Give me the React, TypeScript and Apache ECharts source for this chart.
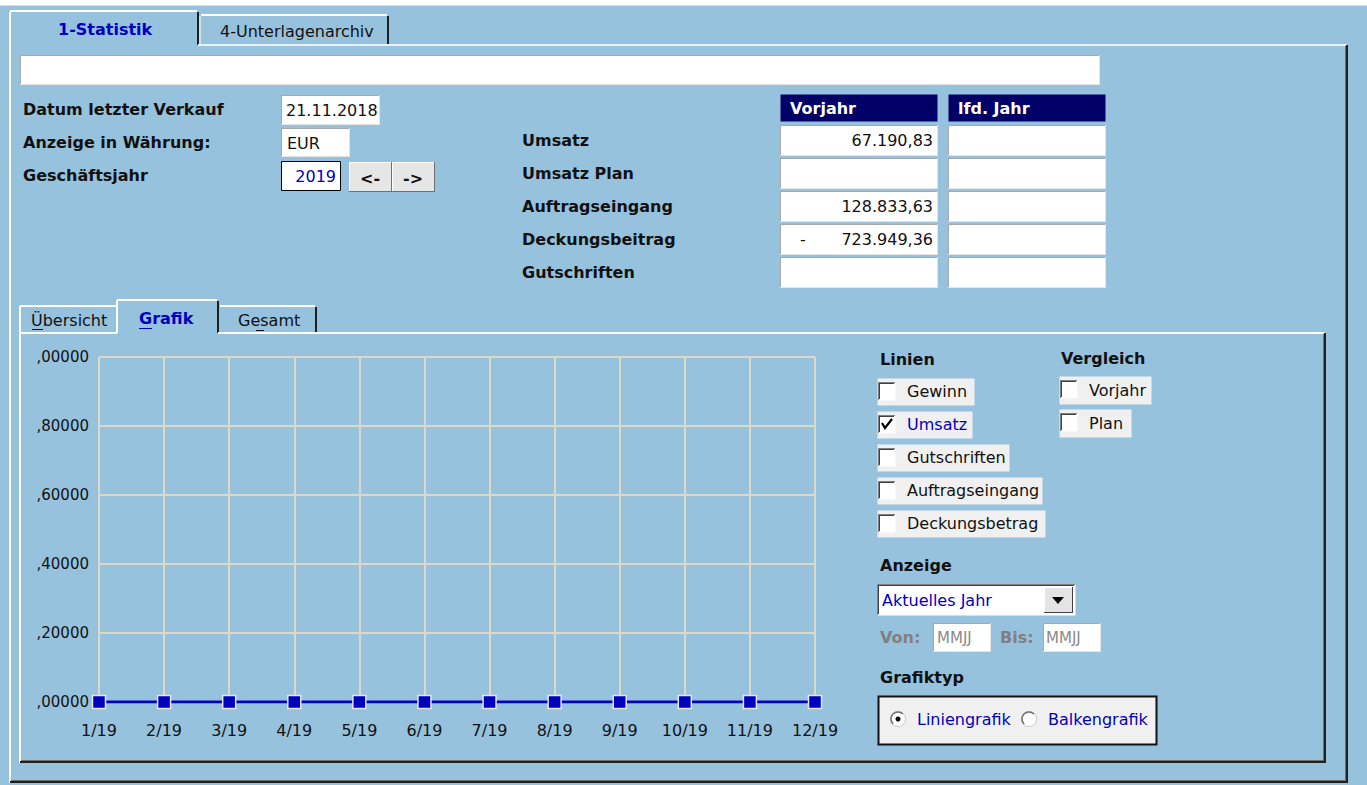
import React, { useEffect, useRef } from "react";
import * as echarts from "echarts";

// ---- data ----
const months = ["1/19", "2/19", "3/19", "4/19", "5/19", "6/19", "7/19", "8/19", "9/19", "10/19", "11/19", "12/19"];
const umsatzValues = [0, 0, 0, 0, 0, 0, 0, 0, 0, 0, 0, 0];
const yMin = 0;
const yMax = 1;
const yStep = 0.2;

const rowLabels = ["Umsatz", "Umsatz Plan", "Auftragseingang", "Deckungsbeitrag", "Gutschriften"];
const vorjahrValues = ["67.190,83", "", "128.833,63", "723.949,36", ""];
const vorjahrSigns = ["", "", "", "-", ""];
const lfdJahrValues = ["", "", "", "", ""];
const linienOptions = ["Gewinn", "Umsatz", "Gutschriften", "Auftragseingang", "Deckungsbetrag"];
const linienChecked = [false, true, false, false, false];
const vergleichOptions = ["Vorjahr", "Plan"];

const FONT = '"DejaVu Sans", "Liberation Sans", sans-serif';
const BG = "#96C2DE";
const GRID = "#DCDAC6";

function txt(text: string, x: number, y: number, o: any = {}) {
  const align = o.align || "left";
  return {
    type: "text",
    x,
    y,
    silent: true,
    z: 10,
    style: {
      text,
      fill: o.fill || "#111111",
      font: `${o.bold ? "bold " : ""}${o.size || 16}px ${FONT}`,
      align,
      textAlign: align,
      verticalAlign: "middle",
      textVerticalAlign: "middle",
    },
  };
}
function rect(x: number, y: number, w: number, h: number, fill: string, stroke?: string, lw = 1) {
  return {
    type: "rect",
    silent: true,
    z: 5,
    shape: { x: x + 0.5, y: y + 0.5, width: w, height: h },
    style: { fill, stroke: stroke || "none", lineWidth: lw },
  };
}
function ln(x1: number, y1: number, x2: number, y2: number, stroke: string, lw = 1) {
  return {
    type: "line",
    silent: true,
    z: 6,
    shape: { x1, y1, x2, y2 },
    style: { stroke, lineWidth: lw },
  };
}
function sunkenBox(x: number, y: number, w: number, h: number, fill = "#FFFFFF") {
  return [
    rect(x, y, w, h, fill),
    ln(x, y + 0.5, x + w, y + 0.5, "#A8A8A8"),
    ln(x + 0.5, y, x + 0.5, y + h, "#A8A8A8"),
    ln(x, y + h + 0.5, x + w + 1, y + h + 0.5, "#E4E4E4"),
    ln(x + w + 0.5, y, x + w + 0.5, y + h + 1, "#E4E4E4"),
  ];
}
function checkBox(x: number, y: number) {
  return [
    rect(x, y, 17, 18, "#FFFFFF"),
    ln(x, y + 0.5, x + 17, y + 0.5, "#808080"),
    ln(x + 0.5, y, x + 0.5, y + 18, "#808080"),
    ln(x + 1, y + 1.5, x + 16, y + 1.5, "#404040"),
    ln(x + 1.5, y + 1, x + 1.5, y + 17, "#404040"),
  ];
}

function buildGraphics() {
  const g: any[] = [];
  // top white strip
  g.push(rect(-1, -1, 1369, 6, "#FFFFFF"));

  // ---- outer tab control ----
  g.push(ln(10, 12, 10, 783, "#FFFFFF", 2));
  g.push(ln(10, 11, 197, 11, "#FFFFFF", 2));
  g.push(ln(198, 12, 198, 45, "#202020", 2));
  g.push(ln(201, 15, 387, 15, "#FFFFFF", 2));
  g.push(ln(200, 16, 200, 44, "#FFFFFF", 1));
  g.push(ln(388, 16, 388, 45, "#202020", 2));
  g.push(ln(198, 45, 1347, 45, "#E8F2F8", 2));
  g.push(ln(1347, 45, 1347, 783, "#202020", 2));
  g.push(ln(1345.5, 46, 1345.5, 781, "#707070", 1));
  g.push(ln(10, 782, 1348, 782, "#202020", 2));
  g.push(ln(11, 780.5, 1346, 780.5, "#707070", 1));
  g.push(txt("1-Statistik", 58, 29, { bold: true, fill: "#0000C0" }));
  g.push(txt("4-Unterlagenarchiv", 220, 31, {}));

  // top text field
  g.push(...sunkenBox(20, 55, 1079, 29));

  // left info
  g.push(txt("Datum letzter Verkauf", 23, 109, { bold: true }));
  g.push(txt("Anzeige in Währung:", 23, 142, { bold: true }));
  g.push(txt("Geschäftsjahr", 23, 175, { bold: true }));
  g.push(...sunkenBox(281, 95, 98, 29));
  g.push(txt("21.11.2018", 286, 110, {}));
  g.push(...sunkenBox(281, 128, 68, 28));
  g.push(txt("EUR", 287, 143, {}));
  g.push(rect(281, 161, 59, 29, "#FFFFFF", "#000000", 1));
  g.push(txt("2019", 336, 176, { fill: "#0000C0", align: "right" }));
  // buttons
  const btn = (x: number, label: string) => {
    g.push(rect(x, 162, 42, 29, "#E6E6E6"));
    g.push(ln(x, 162.5, x + 42, 162.5, "#FFFFFF"));
    g.push(ln(x + 0.5, 162, x + 0.5, 191, "#FFFFFF"));
    g.push(ln(x, 191.5, x + 43, 191.5, "#707070"));
    g.push(ln(x + 42.5, 162, x + 42.5, 192, "#707070"));
    g.push(txt(label, x + 21, 178, { bold: true, align: "center" }));
  };
  btn(349, "<-");
  btn(392, "->");

  // right table
  g.push(rect(780, 94, 157, 27, "#000066"));
  g.push(txt("Vorjahr", 790, 108, { bold: true, fill: "#FFFFFF" }));
  g.push(rect(948, 94, 157, 27, "#000066"));
  g.push(txt("lfd. Jahr", 958, 108, { bold: true, fill: "#FFFFFF" }));
  rowLabels.forEach((lab, i) => {
    const y = 125 + i * 33;
    g.push(txt(lab, 522, y + 15, { bold: true }));
    g.push(...sunkenBox(780, y, 157, 30));
    g.push(...sunkenBox(948, y, 157, 30));
    if (vorjahrValues[i]) g.push(txt(vorjahrValues[i], 933, y + 15, { align: "right" }));
    if (vorjahrSigns[i]) g.push(txt(vorjahrSigns[i], 800, y + 15, {}));
    if (lfdJahrValues[i]) g.push(txt(lfdJahrValues[i], 1101, y + 15, { align: "right" }));
  });

  // ---- inner tab control ----
  g.push(ln(20, 306, 20, 763, "#FFFFFF", 2));
  g.push(ln(20, 306, 116, 306, "#FFFFFF", 2));
  g.push(ln(117, 300, 117, 333, "#FFFFFF", 2));
  g.push(ln(117, 300, 217, 300, "#FFFFFF", 2));
  g.push(ln(218, 301, 218, 333, "#202020", 2));
  g.push(ln(220, 306, 315, 306, "#FFFFFF", 2));
  g.push(ln(316, 307, 316, 333, "#202020", 2));
  g.push(ln(20, 333, 117, 333, "#FFFFFF", 2));
  g.push(ln(218, 333, 1325, 333, "#FFFFFF", 2));
  g.push(ln(1325, 333, 1325, 763, "#202020", 2));
  g.push(ln(1323.5, 334, 1323.5, 761, "#707070", 1));
  g.push(ln(20, 762, 1326, 762, "#202020", 2));
  g.push(ln(21, 760.5, 1324, 760.5, "#707070", 1));
  g.push(txt("Übersicht", 31, 320, {}));
  g.push(ln(32, 329.5, 43, 329.5, "#111111", 1));
  g.push(txt("Grafik", 139, 318, { bold: true, fill: "#0000C0" }));
  g.push(ln(139, 328.5, 152, 328.5, "#0000C0", 1));
  g.push(txt("Gesamt", 238, 320, {}));
  g.push(ln(256, 330.5, 264, 330.5, "#111111", 1));

  // Linien
  g.push(txt("Linien", 880, 359, { bold: true }));
  g.push(txt("Vergleich", 1061, 358, { bold: true }));
  const itemW = [97, 95, 132, 165, 168];
  linienOptions.forEach((lab, i) => {
    const y = 378 + i * 33;
    g.push(rect(877, y, itemW[i], 27, "#F0F0F0"));
    g.push(...checkBox(878, y + 4));
    g.push(txt(lab, 907, y + 13, { fill: linienChecked[i] ? "#0000C0" : "#111111" }));
    if (linienChecked[i]) {
      g.push({
        type: "polyline",
        silent: true,
        z: 12,
        shape: { points: [[882, y + 12], [885, y + 17], [892, y + 8]] },
        style: { stroke: "#000000", lineWidth: 2.2, fill: "none" },
      });
    }
  });
  const vW = [92, 72];
  vergleichOptions.forEach((lab, i) => {
    const y = 376 + i * 33;
    g.push(rect(1059, y, vW[i], 28, "#F0F0F0"));
    g.push(...checkBox(1060, y + 4));
    g.push(txt(lab, 1089, y + 14, {}));
  });

  // Anzeige
  g.push(txt("Anzeige", 880, 565, { bold: true }));
  g.push(rect(877, 584, 198, 31, "#FFFFFF"));
  g.push(ln(877, 584.5, 1075, 584.5, "#808080"));
  g.push(ln(877.5, 584, 877.5, 615, "#808080"));
  g.push(ln(878, 585.5, 1074, 585.5, "#404040"));
  g.push(ln(878.5, 585, 878.5, 614, "#404040"));
  g.push(txt("Aktuelles Jahr", 882, 600, { fill: "#0000C0" }));
  g.push(rect(1044, 587, 28, 25, "#E4E4E4"));
  g.push(ln(1044, 587.5, 1072, 587.5, "#FFFFFF"));
  g.push(ln(1044.5, 587, 1044.5, 612, "#FFFFFF"));
  g.push(ln(1044, 612.5, 1073, 612.5, "#404040"));
  g.push(ln(1072.5, 587, 1072.5, 613, "#404040"));
  g.push({
    type: "polygon",
    silent: true,
    z: 12,
    shape: { points: [[1052, 597], [1064, 597], [1058, 604]] },
    style: { fill: "#000000" },
  });
  g.push(txt("Von:", 880, 637, { bold: true, fill: "#808080" }));
  g.push(...sunkenBox(933, 623, 57, 28));
  g.push(txt("MMJJ", 937, 638, { fill: "#8A8A8A", size: 15 }));
  g.push(txt("Bis:", 1000, 637, { bold: true, fill: "#808080" }));
  g.push(...sunkenBox(1043, 623, 57, 28));
  g.push(txt("MMJJ", 1046, 638, { fill: "#8A8A8A", size: 15 }));

  // Grafiktyp
  g.push(txt("Grafiktyp", 880, 677, { bold: true }));
  g.push(rect(878, 696, 278, 48, "#F0F0F0", "#111111", 2));
  const radio = (cx: number, sel: boolean) => {
    g.push({ type: "circle", silent: true, z: 11, shape: { cx, cy: 719, r: 7.5 }, style: { fill: "#FFFFFF", stroke: "#C8C8C8", lineWidth: 1 } });
    g.push({ type: "arc", silent: true, z: 12, shape: { cx, cy: 719, r: 7, startAngle: Math.PI * 0.75, endAngle: Math.PI * 1.75 }, style: { stroke: "#707070", lineWidth: 1.5, fill: "none" } });
    if (sel) g.push({ type: "circle", silent: true, z: 12, shape: { cx, cy: 719, r: 2.5 }, style: { fill: "#000000" } });
  };
  radio(898, true);
  g.push(txt("Liniengrafik", 917, 719, { fill: "#0000C0" }));
  radio(1029, false);
  g.push(txt("Balkengrafik", 1048, 719, { fill: "#0000C0" }));

  return g;
}

export default function App() {
  const ref = useRef<HTMLDivElement>(null);
  useEffect(() => {
    document.body.style.margin = "0";
    const chart = echarts.init(ref.current!, undefined, { renderer: "svg" });
    chart.setOption({
      animation: false,
      backgroundColor: BG,
      grid: { left: 99, top: 357, width: 716, height: 345, containLabel: false },
      xAxis: {
        type: "category",
        data: months,
        boundaryGap: false,
        axisLine: { show: false },
        axisTick: { show: false },
        axisLabel: { margin: 20, fontSize: 16, fontFamily: FONT, color: "#111111", interval: 0 },
        splitLine: { show: true, lineStyle: { color: GRID, width: 2 } },
      },
      yAxis: {
        type: "value",
        min: yMin,
        max: yMax,
        interval: yStep,
        axisLine: { show: false },
        axisTick: { show: false },
        axisLabel: {
          margin: 10,
          fontSize: 15,
          fontFamily: FONT,
          color: "#111111",
          formatter: (v: number) => v.toFixed(5).replace(".", ",").slice(1),
        },
        splitLine: { show: true, lineStyle: { color: GRID, width: 2 } },
      },
      graphic: { elements: buildGraphics() },
      series: [
        {
          name: "Umsatz",
          type: "line",
          data: umsatzValues,
          symbol: "rect",
          symbolSize: 13,
          showSymbol: true,
          lineStyle: { color: "#0000C0", width: 3 },
          itemStyle: { color: "#0000C0", borderColor: "#E6E6E6", borderWidth: 1.5 },
          z: 5,
        },
      ],
    });
    return () => chart.dispose();
  }, []);
  return <div ref={ref} style={{ position: "fixed", left: 0, top: 0, width: 1367, height: 785 }} />;
}
